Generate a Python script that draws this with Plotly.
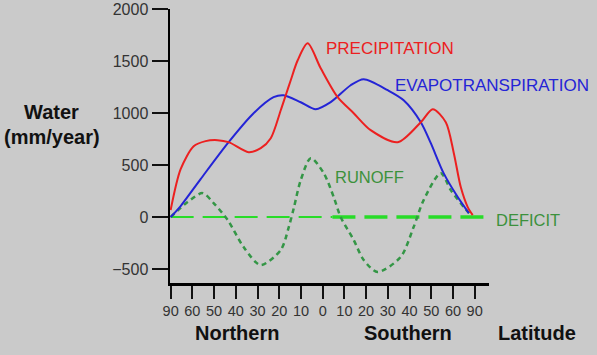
import plotly.graph_objects as go

# Latitude tick labels (evenly spaced categories, index 0..14)
lat_labels = ["90", "60", "50", "40", "30", "20", "10", "0", "10", "20", "30", "40", "50", "60", "90"]
y_ticks = [-500, 0, 500, 1000, 1500, 2000]

# Precipitation (mm/year) vs latitude position (tick-index units)
precip_x = [0, 0.46, 1.06, 1.61, 2.16, 2.67, 3.59, 4.15, 4.61, 5.07, 5.30, 5.53, 5.85, 6.31,
            6.91, 7.69, 8.43, 9.21, 10.46, 11.52, 12.07, 12.67, 13.04, 13.36, 13.68, 13.91]
precip_y = [67, 460, 680, 730, 739, 720, 624, 662, 758, 1027, 1171, 1315, 1507, 1670,
            1430, 1152, 998, 835, 720, 912, 1037, 912, 614, 288, 96, 19]

# Evapotranspiration
evap_x = [0, 0.46, 1.38, 2.67, 3.82, 4.74, 5.20, 5.99, 6.68, 7.37, 8.29, 8.89, 10.0,
          10.73, 11.52, 11.98, 12.57, 13.22, 13.73]
evap_y = [0, 106, 365, 720, 998, 1152, 1171, 1104, 1037, 1104, 1267, 1325, 1219,
          1123, 912, 710, 422, 192, 38]

# Runoff
runoff_x = [0, 0.78, 1.47, 1.98, 2.63, 3.36, 4.14, 5.07, 5.44, 5.67, 5.99, 6.45, 7.05, 7.51,
            7.83, 8.43, 8.89, 9.53, 10.59, 11.19, 11.65, 12.44, 12.90, 13.50, 13.82]
runoff_y = [0, 144, 230, 134, -29, -288, -461, -317, -96, 86, 355, 566, 422, 192,
            0, -221, -413, -528, -384, -96, 163, 422, 259, 96, 19]

# Deficit (zero line), northern and southern segments
deficit_north_x = [0, 7.45]
deficit_north_y = [0, 0]
deficit_south_x = [7.45, 14.45]
deficit_south_y = [0, 0]

RED = "rgb(236,32,32)"
BLUE = "rgb(36,36,214)"
GREEN_RUN = "rgb(52,150,70)"
GREEN_DEF = "rgb(40,220,40)"
GREEN_TXT = "rgb(60,145,60)"
BG = "#cacaca"
FONT = "Liberation Sans, Arial, sans-serif"

fig = go.Figure()
fig.add_trace(go.Scatter(x=deficit_north_x, y=deficit_north_y, mode="lines",
                         line=dict(color=GREEN_DEF, width=2, dash="23px,9px"), hoverinfo="skip"))
fig.add_trace(go.Scatter(x=deficit_south_x, y=deficit_south_y, mode="lines", cliponaxis=False,
                         line=dict(color=GREEN_DEF, width=3.5, dash="23px,9px"), hoverinfo="skip"))
fig.add_trace(go.Scatter(x=runoff_x, y=runoff_y, mode="lines",
                         line=dict(color=GREEN_RUN, width=2.5, dash="5px,4px", shape="spline", smoothing=0.8)))
fig.add_trace(go.Scatter(x=evap_x, y=evap_y, mode="lines",
                         line=dict(color=BLUE, width=2, shape="spline", smoothing=0.8)))
fig.add_trace(go.Scatter(x=precip_x, y=precip_y, mode="lines",
                         line=dict(color=RED, width=2, shape="spline", smoothing=0.8)))

L, R, T, B = 170, 108, 9, 72
W, H = 597, 355
pw, ph = W - L - R, H - T - B


def px(xp):
    return (xp - L) / pw


def py(yp):
    return (H - B - yp) / ph


ann = []
# series labels
ann.append(dict(text="PRECIPITATION", x=px(390), y=py(48.5), font=dict(color=RED, size=17)))
ann.append(dict(text="EVAPOTRANSPIRATION", x=px(492), y=py(85), font=dict(color=BLUE, size=17)))
ann.append(dict(text="RUNOFF", x=px(369), y=py(176.5), font=dict(color=GREEN_TXT, size=16.5)))
ann.append(dict(text="DEFICIT", x=px(527.5), y=py(220), font=dict(color=GREEN_TXT, size=16.5)))
# axis titles
for t, xx, yy in [("Northern", 237, 333), ("Southern", 408, 333), ("Latitude", 537, 333),
                  ("Water", 51, 112), ("(mm/year)", 52, 137)]:
    ann.append(dict(text="<b>%s</b>" % t, x=px(xx), y=py(yy), font=dict(color="#111111", size=20)))

for a in ann:
    a.update(xref="paper", yref="paper", showarrow=False, xanchor="center", yanchor="middle")
    a["font"]["family"] = FONT

fig.update_layout(
    template="none",
    width=W, height=H,
    margin=dict(l=L, r=R, t=T, b=B, pad=0, autoexpand=False),
    paper_bgcolor=BG, plot_bgcolor=BG,
    showlegend=False,
    font=dict(family=FONT, color="#333333"),
    annotations=ann,
    xaxis=dict(range=[-0.03, 14.66], tickvals=list(range(len(lat_labels))), ticktext=lat_labels,
               automargin=False,
               showgrid=False, zeroline=False, showline=True, linecolor="black", linewidth=2.5,
               ticks="outside", ticklen=13, tickwidth=2, tickcolor="#111111",
               tickfont=dict(size=14.5, color="#333333", family=FONT)),
    yaxis=dict(range=[-634, 2000], tickvals=y_ticks, automargin=False,
               showgrid=False, zeroline=False, showline=True, linecolor="black", linewidth=2.5,
               ticks="outside", ticklen=16, tickwidth=2.5, tickcolor="#111111",
               tickfont=dict(size=16, color="#333333", family=FONT)),
)

fig.write_html("out.html",
               config={"displayModeBar": False, "staticPlot": True},
               post_script="document.body.style.margin='0';document.body.style.padding='0';"
                           "document.body.style.background='%s';" % BG)
